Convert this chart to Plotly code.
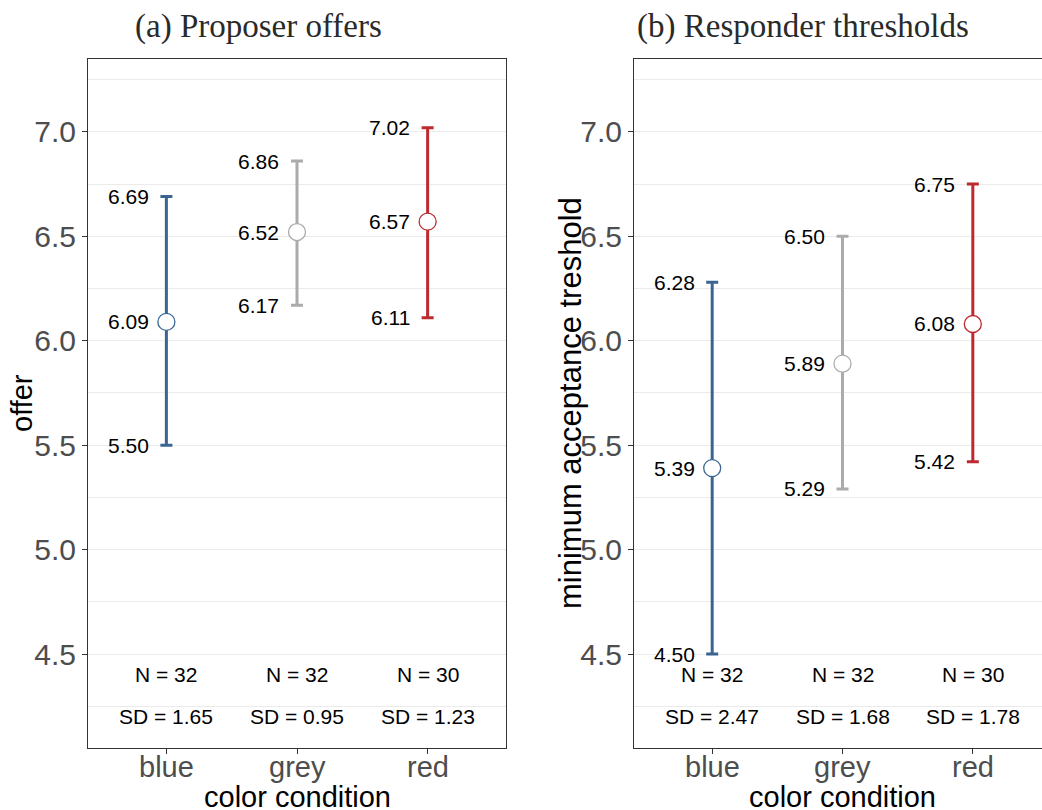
import plotly.graph_objects as go

categories = ["blue", "grey", "red"]
colors = ["#3A6593", "#ABABAB", "#BD2A2F"]

offer_mean = [6.09, 6.52, 6.57]
offer_lower = [5.50, 6.17, 6.11]
offer_upper = [6.69, 6.86, 7.02]
offer_n = [32, 32, 30]
offer_sd = [1.65, 0.95, 1.23]

thr_mean = [5.39, 5.89, 6.08]
thr_lower = [4.50, 5.29, 5.42]
thr_upper = [6.28, 6.50, 6.75]
thr_n = [32, 32, 30]
thr_sd = [2.47, 1.68, 1.78]

y_ticks = [4.5, 5.0, 5.5, 6.0, 6.5, 7.0]
x_pos = [1, 2, 3]

W, H = 1042, 810
SANS = "Liberation Sans, Arial, sans-serif"
SERIF = "Liberation Serif, Times New Roman, serif"

fig = go.Figure()

panels = [
    ("x", "y", offer_mean, offer_lower, offer_upper, offer_n, offer_sd),
    ("x2", "y2", thr_mean, thr_lower, thr_upper, thr_n, thr_sd),
]

annotations = []
for xa, ya, mean, lo, up, ns, sds in panels:
    for i, cat in enumerate(categories):
        fig.add_trace(go.Scatter(
            x=[x_pos[i]], y=[mean[i]], xaxis=xa, yaxis=ya,
            mode="markers",
            marker=dict(symbol="circle", size=17, color="white",
                        line=dict(color=colors[i], width=1.3)),
            error_y=dict(type="data", symmetric=False,
                         array=[up[i] - mean[i]],
                         arrayminus=[mean[i] - lo[i]],
                         color=colors[i], thickness=3, width=6),
            showlegend=False, hoverinfo="skip", name=cat,
        ))
        for val in (lo[i], mean[i], up[i]):
            annotations.append(dict(
                x=x_pos[i] - 0.12, y=val, xref=xa, yref=ya,
                text=f"{val:.2f}", showarrow=False, xanchor="right", yanchor="middle",
                font=dict(family=SANS, size=21, color="black")))
        annotations.append(dict(
            x=x_pos[i], y=4.4, xref=xa, yref=ya, text=f"N = {ns[i]}",
            showarrow=False, xanchor="center", yanchor="middle",
            font=dict(family=SANS, size=21, color="black")))
        annotations.append(dict(
            x=x_pos[i], y=4.2, xref=xa, yref=ya, text=f"SD = {sds[i]:.2f}",
            showarrow=False, xanchor="center", yanchor="middle",
            font=dict(family=SANS, size=21, color="black")))
        # category tick label
        annotations.append(dict(
            x=x_pos[i], y=1 - 767 / H, xref=xa, yref="paper", text=cat,
            showarrow=False, xanchor="center", yanchor="middle",
            font=dict(family=SANS, size=29, color="#4D4D4D")))

# titles
annotations += [
    dict(x=258 / W, y=1 - 27 / H, xref="paper", yref="paper", text="(a) Proposer offers",
         showarrow=False, xanchor="center", yanchor="middle",
         font=dict(family=SERIF, size=33, color="#2A2A2A")),
    dict(x=803 / W, y=1 - 27 / H, xref="paper", yref="paper", text="(b) Responder thresholds",
         showarrow=False, xanchor="center", yanchor="middle",
         font=dict(family=SERIF, size=33, color="#2A2A2A")),
    dict(x=297 / W, y=1 - 797 / H, xref="paper", yref="paper", text="color condition",
         showarrow=False, xanchor="center", yanchor="middle",
         font=dict(family=SANS, size=29, color="black")),
    dict(x=842 / W, y=1 - 797 / H, xref="paper", yref="paper", text="color condition",
         showarrow=False, xanchor="center", yanchor="middle",
         font=dict(family=SANS, size=29, color="black")),
    dict(x=22 / W, y=1 - 403 / H, xref="paper", yref="paper", text="offer", textangle=-90,
         showarrow=False, xanchor="center", yanchor="middle",
         font=dict(family=SANS, size=29, color="black")),
    dict(x=570 / W, y=1 - 403 / H, xref="paper", yref="paper", text="minimum acceptance treshold",
         textangle=-90, showarrow=False, xanchor="center", yanchor="middle",
         font=dict(family=SANS, size=31, color="black")),
]

ydom = [1 - 748 / H, 1 - 58.7 / H]
common_y = dict(
    range=[4.05, 7.35], tickvals=y_ticks, ticktext=[f"{v:.1f}" for v in y_ticks],
    showgrid=True, gridcolor="#EBEBEB", gridwidth=1.1, zeroline=False,
    ticks="outside", ticklen=5, tickcolor="#333333", tickwidth=1,
    tickfont=dict(family=SANS, size=30, color="#4D4D4D"),
    showline=True, linecolor="#333333", linewidth=1,
    minor=dict(tickvals=[4.25, 4.75, 5.25, 5.75, 6.25, 6.75, 7.25], showgrid=True,
               gridcolor="#EBEBEB", gridwidth=0.8, ticks=""),
)
common_x = dict(
    tickvals=x_pos, ticktext=["", "", ""], showgrid=False, zeroline=False,
    ticks="outside", ticklen=5, tickcolor="#333333", tickwidth=1,
    showline=True, linecolor="#333333", linewidth=1,
)

fig.update_layout(
    width=W, height=H, margin=dict(l=0, r=0, t=0, b=0),
    paper_bgcolor="white", plot_bgcolor="white",
    xaxis=dict(domain=[88 / W, 506 / W], range=[0.4, 3.6], anchor="y", mirror=True, **common_x),
    yaxis=dict(domain=ydom, anchor="x", mirror=True, **common_y),
    xaxis2=dict(domain=[634 / W, 1.0], range=[0.4, 3.6 - 9 / 130], anchor="y2", mirror=True, **common_x),
    yaxis2=dict(domain=ydom, anchor="x2", mirror=False, **common_y),
    annotations=annotations,
    showlegend=False,
)

fig.write_html("out.html", config={"displayModeBar": False},
               post_script="document.body.style.margin='0';document.body.style.padding='0';"
                           "document.documentElement.style.overflow='hidden';")
